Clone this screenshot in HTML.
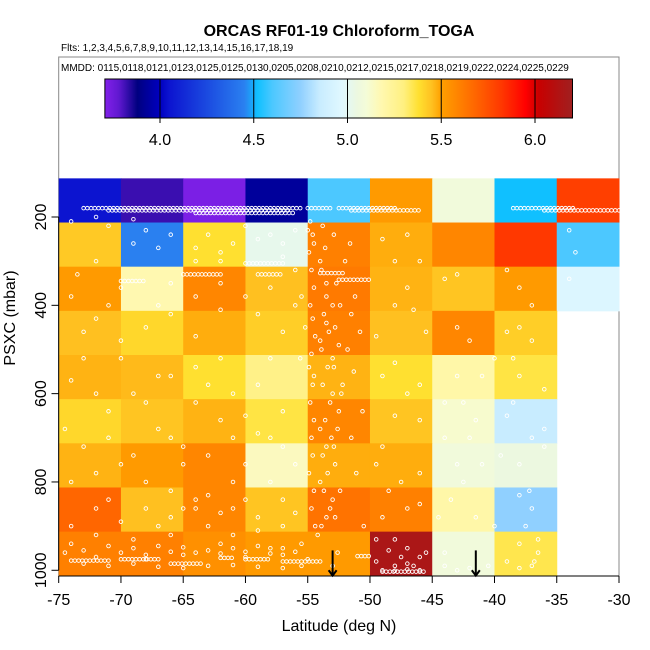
<!DOCTYPE html>
<html><head><meta charset="utf-8"><style>
html,body{margin:0;padding:0;background:#fff;}
svg{display:block;font-family:"Liberation Sans",sans-serif;}
</style></head><body>
<svg id="chart" width="650" height="650" viewBox="0 0 650 650" xmlns="http://www.w3.org/2000/svg">
<text x="339" y="36" text-anchor="middle" font-size="16" font-weight="bold">ORCAS RF01-19 Chloroform_TOGA</text>
<text x="61" y="51" font-size="10">Flts: 1,2,3,4,5,6,7,8,9,10,11,12,13,14,15,16,17,18,19</text>
<rect x="58.7" y="57" width="560.3" height="519" fill="none" stroke="#888" stroke-width="1"/>
<text x="61" y="71" font-size="10">MMDD: 0115,0118,0121,0123,0125,0125,0130,0205,0208,0210,0212,0215,0217,0218,0219,0222,0224,0225,0229</text>
<defs><linearGradient id="cbgrad" x1="0" x2="1" y1="0" y2="0"></linearGradient></defs>
<g id="colorbar"></g>
<g id="cells"></g>
<g id="points"></g>
<g id="axes"></g>
<text x="339" y="631" text-anchor="middle" font-size="16">Latitude (deg N)</text>
<text x="0" y="0" transform="translate(15,318) rotate(-90)" text-anchor="middle" font-size="16">PSXC (mbar)</text>
</svg>
<script>
const latBins = [-75,-70,-65,-60,-55,-50,-45,-40,-35];
const presBinsTop = [112.5,212.5,312.5,412.5,512.5,612.5,712.5,812.5,912.5];
// rows top->bottom, cols west->east; null = no data
const values = [
 [4.05,3.82,3.72,3.93,4.60,5.52,5.08,4.52,5.80],
 [5.43,4.45,5.38,5.02,5.60,5.48,5.58,5.82,4.60],
 [5.52,5.18,5.58,5.45,5.62,5.47,5.44,5.52,4.95],
 [5.45,5.40,5.48,5.42,5.60,5.45,5.58,5.42,null],
 [5.47,5.46,5.38,5.28,5.47,5.38,5.20,5.36,null],
 [5.40,5.44,5.47,5.36,5.58,5.44,5.12,4.85,null],
 [5.47,5.52,5.58,5.15,5.48,5.48,5.08,5.05,null],
 [5.68,5.45,5.58,5.44,5.64,5.60,5.20,4.75,null],
 [5.60,5.60,5.55,5.52,5.52,6.15,5.08,5.35,null]
];
const xTicks = [-75,-70,-65,-60,-55,-50,-45,-40,-35,-30];
const yTicks = [200,400,600,800,1000];
const cbTicks = ["4.0","4.5","5.0","5.5","6.0"];
const cbStops = [[3.71,'#8020e8'],[3.78,'#6018d0'],[3.88,'#000080'],[4.0,'#0000c0'],[4.05,'#0c14d0'],[4.45,'#2a80f0'],[4.52,'#10c0ff'],[4.6,'#4cc8ff'],[4.75,'#90d0ff'],[4.85,'#c8ecff'],[4.97,'#e0f8ff'],[5.05,'#ecf8e0'],[5.1,'#f4fcd8'],[5.18,'#fff8b0'],[5.3,'#fff080'],[5.38,'#ffe030'],[5.45,'#ffc020'],[5.5,'#ffa000'],[5.6,'#ff8000'],[5.7,'#ff6000'],[5.82,'#ff3800'],[5.95,'#ff0000'],[6.02,'#c80000'],[6.2,'#a02020']];
// level flight legs: [latStart, latEnd, pressure]
const legs = [[-73,-55.5,180],[-71,-56.5,185],[-64,-56,191],[-55,-53,180],[-52.5,-48,180],[-51.5,-46,185],[-38.5,-33.5,180],[-36,-30,185],[-54,-52,327],[-52.5,-50,342],[-59,-57,330],[-65,-62,330],[-70,-68,345],[-60,-57,305],[-62,-61,972],[-70,-67,975],[-74,-71,978],[-66,-63.5,985],[-49,-45.5,1003],[-57,-54,980],[-60,-58,975],[-51,-50,968]];
// profile / scattered samples: [lat, pressure]
const pts = [[-74,210],[-71,220],[-69,260],[-72,300],[-73.5,330],[-70,360],[-66,350],[-64,380],[-62,300],[-61,260],[-58,240],[-57,290],[-56,320],[-55,230],[-54.5,260],[-54,300],[-53.5,350],[-53,400],[-53.5,440],[-54,480],[-53,520],[-54.5,560],[-53,600],[-52.5,640],[-54,680],[-53.5,720],[-52.8,760],[-54,800],[-53,840],[-53.5,880],[-54.2,920],[-52.6,960],[-55.5,380],[-55.2,450],[-55.6,520],[-52,300],[-51.5,420],[-51.8,500],[-52.2,580],[-51.5,700],[-49,250],[-48,300],[-47,360],[-46.5,410],[-49.5,470],[-48,530],[-47,600],[-46,660],[-49,720],[-47.5,800],[-46,850],[-49,880],[-48,930],[-47,950],[-46,970],[-44,340],[-43,330],[-42,480],[-43,450],[-41,560],[-44,620],[-42,700],[-41,760],[-43.5,840],[-41.5,880],[-44,960],[-39,320],[-38,360],[-37,400],[-39,460],[-37,480],[-38,560],[-36,590],[-39,650],[-37,700],[-38,760],[-36,720],[-38,830],[-37.5,900],[-36.5,930],[-39,980],[-36.8,980],[-34,230],[-33.5,280],[-34,340],[-72,430],[-70,480],[-73,520],[-68,450],[-66,420],[-64,470],[-62,520],[-67,560],[-69,600],[-71,640],[-64,620],[-62,660],[-66,700],[-69,740],[-72,780],[-65,760],[-61,800],[-60,760],[-58,700],[-57,640],[-59,580],[-58,520],[-57,460],[-59,420],[-56,400],[-71,840],[-68,860],[-66,880],[-64,840],[-63,900],[-61,860],[-59,880],[-57,840],[-74,900],[-72,920],[-69,930],[-66,920],[-62,940],[-58,950],[-74.5,960],[-72,970],[-68,975],[-65,965],[-60,970],[-57,965],[-55,975],[-53,990],[-48,990],[-47,985]];
const pts2 = [[-54.8,210],[-54.6,240],[-54.9,280],[-54.7,320],[-54.5,360],[-54.8,400],[-54.6,430],[-54.4,470],[-54.7,510],[-54.9,540],[-54.6,580],[-54.8,620],[-54.5,660],[-54.7,700],[-54.6,740],[-54.9,780],[-54.5,820],[-54.7,860],[-54.4,900],[-53.8,220],[-53.6,270],[-53.9,320],[-53.5,380],[-53.7,420],[-53.3,460],[-53.9,500],[-53.4,540],[-53.8,580],[-53.2,620],[-53.6,660],[-53.1,700],[-53.8,740],[-53.4,780],[-53.7,820],[-53.2,860],[-53.9,900],[-52.9,240],[-52.7,350],[-52.4,400],[-52.8,450],[-52.5,490],[-52.9,540],[-52.3,600],[-52.6,680],[-52.9,720],[-52.4,820],[-52.8,880],[-51.6,260],[-51.2,380],[-50.8,460],[-51.3,550],[-50.6,640],[-51.1,780],[-50.5,900],[-72,200],[-69,205],[-66,240],[-67,270],[-68,230],[-63,240],[-64,270],[-62,280],[-60,220],[-59,250],[-57,260],[-56,230],[-62,350],[-64,300],[-60,380],[-58,360],[-62,410],[-67,400],[-74,380],[-71,400],[-73,460],[-70,520],[-74,570],[-72,600],[-68,620],[-66,560],[-64,540],[-63,580],[-61,600],[-60,650],[-59,690],[-57,720],[-56,760],[-58,800],[-60,840],[-62,870],[-64,860],[-66,820],[-68,800],[-70,760],[-73,720],[-74.5,680],[-71,700],[-67,680],[-65,720],[-63,740],[-61,700],[-74,800],[-72,860],[-70,890],[-67,900],[-65,860],[-63,830],[-61,920],[-59,910],[-57,900],[-56,870],[-74,940],[-73,955],[-71,945],[-70,960],[-69,950],[-68,965],[-67,945],[-66,958],[-65,948],[-64,960],[-63,955],[-62,962],[-61,950],[-60,958],[-59,945],[-58,962],[-57,950],[-56,958],[-55.5,940],[-73,985],[-71,990],[-69,985],[-67,992],[-65,995],[-63,990],[-61,988],[-59,992],[-57,995],[-55.5,990],[-49.5,930],[-48.5,955],[-47.5,970],[-46.5,990],[-49,1000],[-48,1001],[-47,998],[-46,1000],[-45.5,960],[-49.5,980],[-47,240],[-46,300],[-48,400],[-45.5,460],[-49,560],[-46,580],[-48,650],[-49.5,760],[-46,780],[-48.5,820],[-47,860],[-44,990],[-43,1000],[-42,995],[-40.5,990],[-38,995],[-37,990],[-36.5,960],[-38,450],[-38.5,520],[-40,520],[-43,560],[-42.5,620],[-41.5,660],[-44,700],[-43,760],[-42.5,800],[-44.5,880],[-40,900],[-38,940],[-37,860],[-38.5,620],[-36,680],[-39.5,740],[-37.2,820]];

const svgNS = "http://www.w3.org/2000/svg";
const X = lat => 58.7 + (lat + 75) * (560.3 / 45);
const Y = p => 217 + (p - 200) * 0.4416;
const CBX = v => 160 + (v - 4.0) * 187.5;
function hex2rgb(h){return [1,3,5].map(i=>parseInt(h.substr(i,2),16));}
function cmap(v){
  if (v <= cbStops[0][0]) return cbStops[0][1];
  for (let i=1;i<cbStops.length;i++){
    if (v <= cbStops[i][0]){
      const [v0,c0]=cbStops[i-1],[v1,c1]=cbStops[i];
      const t=(v-v0)/(v1-v0),a=hex2rgb(c0),b=hex2rgb(c1);
      return 'rgb('+a.map((x,k)=>Math.round(x+(b[k]-x)*t)).join(',')+')';
    }
  }
  return cbStops[cbStops.length-1][1];
}
function mk(tag, attrs, parent){
  const e=document.createElementNS(svgNS,tag);
  for (const k in attrs) e.setAttribute(k, attrs[k]);
  parent.appendChild(e); return e;
}
const grad=document.getElementById('cbgrad');
const cbMin=3.706, cbMax=6.2;
cbStops.forEach(s=>{ mk('stop',{offset:((s[0]-cbMin)/(cbMax-cbMin)).toFixed(4),'stop-color':s[1]},grad); });
const cb=document.getElementById('colorbar');
const cbRect=mk('rect',{x:CBX(cbMin),y:79,width:CBX(cbMax)-CBX(cbMin),height:39,fill:'url(#cbgrad)',stroke:'#000','stroke-width':1},cb);


cbTicks.forEach(t=>{
  const v=parseFloat(t);
  const l=mk('line',{x1:CBX(v),x2:CBX(v),y1:79,y2:123,stroke:'#000','stroke-width':1},cb);
  
  
  const tx=mk('text',{x:CBX(v),y:145,'text-anchor':'middle','font-size':16},cb);
  tx.textContent=t;
  
  
});
const cells=document.getElementById('cells');
values.forEach((row,r)=>row.forEach((v,c)=>{
  if (v===null) return;
  const x0=X(latBins[c]), x1=X(latBins[c]+5), y0=Y(presBinsTop[r]), y1=Y(presBinsTop[r]+100);
  const e=mk('rect',{x:x0,y:y0,width:x1-x0+0.5,height:y1-y0+0.5,fill:cmap(v)},cells);
  
  
}));
const pg=document.getElementById('points');
function dot(lat,p){
  const e=mk('circle',{cx:X(lat),cy:Y(p),r:1.8,fill:'none',stroke:'#fff','stroke-width':0.9},pg);
  
  
}
legs.forEach(([a,b,p])=>{ for(let l=a;l<=b;l+=0.3) dot(l,p); });
pts.forEach(([l,p])=>dot(l,p));
pts2.forEach(([l,p])=>dot(l,p));
const ax=document.getElementById('axes');
[-53,-41.5].forEach(lat=>{
  const l=mk('line',{x1:X(lat),x2:X(lat),y1:Y(955),y2:Y(1010),stroke:'#000','stroke-width':2},ax);
  
  
  const h=mk('path',{d:`M${X(lat)-4},${Y(1000)} L${X(lat)},${Y(1012)} L${X(lat)+4},${Y(1000)}`,fill:'none',stroke:'#000','stroke-width':2},ax);
  
  
});
const xl=mk('line',{x1:58.7,x2:619,y1:576,y2:576,stroke:'#000','stroke-width':1},ax);


const yl=mk('line',{x1:58.7,x2:58.7,y1:Y(200),y2:Y(1000),stroke:'#000','stroke-width':1},ax);


xTicks.forEach(t=>{
  const l=mk('line',{x1:X(t),x2:X(t),y1:576,y2:583,stroke:'#000','stroke-width':1},ax);
  
  
  const tx=mk('text',{x:X(t),y:605,'text-anchor':'middle','font-size':16},ax);
  tx.textContent=String(t);
  
  
});
yTicks.forEach(t=>{
  const l=mk('line',{x1:51.5,x2:58.7,y1:Y(t),y2:Y(t),stroke:'#000','stroke-width':1},ax);
  
  
  const tx=mk('text',{x:0,y:0,transform:`translate(46,${Y(t)}) rotate(-90)`,'text-anchor':'middle','font-size':16},ax);
  tx.textContent=String(t);
  
  
});
</script>
</body></html>
